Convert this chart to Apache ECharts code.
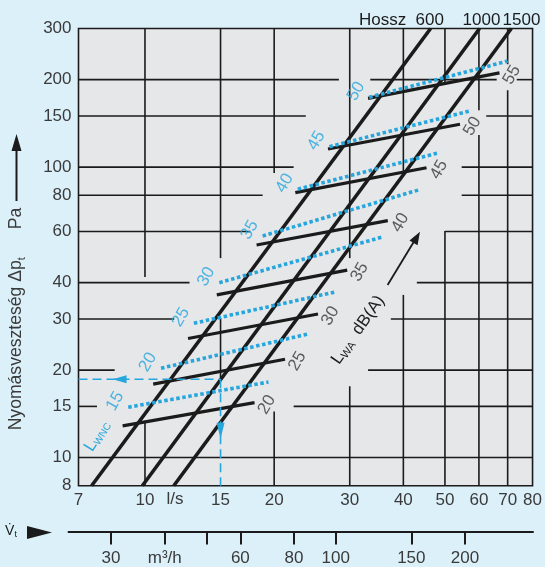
<!DOCTYPE html>
<html>
<head>
<meta charset="utf-8">
<script src="https://cdn.jsdelivr.net/npm/echarts@6/dist/echarts.min.js"></script>
<style>
  html, body { margin: 0; padding: 0; background: #dcf0fa; }
  #chart { width: 545px; height: 567px; }
</style>
</head>
<body>
<div id="chart"></div>
<script>
// Flow rate axis (l/s), pressure axis (Pa) and the secondary m³/h scale
const flowTicks = [7, 10, 15, 20, 30, 40, 50, 60, 70, 80];
const pressureTicks = [8, 10, 15, 20, 30, 40, 60, 80, 100, 150, 200, 300];
const m3hTicks = [30, 40, 50, 60, 80, 100, 150, 200];
const m3hLabels = [30, 40, 60, 80, 100, 150, 200];

// Duct lengths (mm): pressure loss lines as [l/s, Pa] end points
const lengthNames = ['600', '1000', '1500'];
const length600 = [[7.51, 8], [46.3, 300]];
const length1000 = [[9.86, 8], [60.2, 300]];
const length1500 = [[11.67, 8], [71.4, 300]];

// Sound power level L_WA dB(A)
const lwaLevels = [20, 25, 30, 35, 40, 45, 50, 55];
const lwaLines = [
  [[8.87, 12.85], [18.0, 15.45]],
  [[10.45, 17.9], [21.2, 21.8]],
  [[12.6, 25.7], [25.3, 31.2]],
  [[14.7, 36.3], [29.6, 44.2]],
  [[18.2, 53.9], [36.8, 65.4]],
  [[22.4, 81.7], [45.3, 99.5]],
  [[26.7, 115.4], [54.2, 140.4]],
  [[33.1, 172.5], [67.0, 211]]
];

// Noise criterion level L_WNC
const lwncLevels = [15, 20, 25, 30, 35, 40, 45, 50];
const lwncLines = [
  [[9.14, 14.9], [19.4, 18.2]],
  [[10.9, 20.3], [23.9, 26.6]],
  [[13.0, 29.0], [27.6, 37.1]],
  [[14.9, 40.0], [36.0, 57.6]],
  [[18.8, 57.9], [43.4, 83.4]],
  [[22.7, 83.9], [47.9, 111.6]],
  [[26.9, 117.6], [57.1, 156]],
  [[33.3, 173.9], [70.0, 231.8]]
];

// Worked example: 15 l/s through the 1000 mm duct
const exampleFlow = 15;
const examplePressure = 18.6;

// Grid line pieces, broken where captions and curves sit.
// Vertical: [l/s, Pa from, Pa to]; horizontal: [Pa, l/s from, l/s to]
const vGrid = [
  [10, 41.8, 300], [10, 8, 13.4],
  [15, 48.6, 300], [15, 18.6, 30.2],
  [20, 95.4, 300], [20, 8, 14.4],
  [30, 48.6, 300], [30, 8, 17.6],
  [40, 95.4, 300], [40, 8, 36.3],
  [50, 195, 300], [50, 8, 60.2],
  [60, 8, 129], [60, 157, 300],
  [70, 8, 184], [70, 226, 300]
];
const hGrid = [
  [10, 7, 80],
  [15, 7, 7.73], [15, 22.2, 80],
  [20, 7, 8.5], [20, 33.1, 80],
  [30, 7, 11.7], [30, 37.4, 80],
  [40, 7, 12.7], [40, 43, 80],
  [60, 7, 17.6], [60, 50, 80],
  [80, 7, 18.8], [80, 54.7, 80],
  [100, 7, 22.2], [100, 54.7, 80],
  [150, 7, 23.7], [150, 62.4, 80],
  [200, 7, 28.3], [200, 33.5, 66], [200, 73.5, 80]
];

const FONT = '"Liberation Sans", Arial, Helvetica, sans-serif';
const INK = '#1b1b1b';
const TEXT = '#3a3a3a';
const BLUE = '#27a6de';
const LABEL_ANGLE = 60;

const measure = document.createElement('canvas').getContext('2d');
function textWidth(t, size) {
  measure.font = size + 'px ' + FONT;
  return measure.measureText(t).width;
}
// A rotated run of text pieces: [text, size, baseline shift, gap before]
function textRun(parts, cx, cy, deg, color) {
  const widths = parts.map(p => textWidth(p[0], p[1]) + (p[3] || 0));
  const total = widths.reduce((a, b) => a + b, 0);
  let x = -total / 2;
  const children = parts.map((p, i) => {
    const el = {
      type: 'text', x: x + (p[3] || 0), y: p[2],
      style: { text: p[0], font: p[1] + 'px ' + FONT, fill: color, textAlign: 'left', textVerticalAlign: 'middle', align: 'left', verticalAlign: 'middle' }
    };
    x += widths[i];
    return el;
  });
  return { type: 'group', x: cx, y: cy, rotation: deg * Math.PI / 180, children: children, silent: true };
}
function plainText(t, cx, cy, size, color) {
  return { type: 'text', x: cx, y: cy, silent: true,
    style: { text: t, font: size + 'px ' + FONT, fill: color, textAlign: 'center', textVerticalAlign: 'middle', align: 'center', verticalAlign: 'middle' } };
}
// Label offsets are applied in the rotated label frame; convert a screen shift
function labelOffset(dx, dy, deg) {
  const r = deg * Math.PI / 180;
  return [dx * Math.cos(r) - dy * Math.sin(r), dx * Math.sin(r) + dy * Math.cos(r)];
}

const gridSegments = vGrid.map(g => [g[0], g[1], g[0], g[2]])
  .concat(hGrid.map(g => [g[1], g[0], g[2], g[0]]));

function lineSeries(points, color, width, dash, z) {
  return {
    type: 'line', xAxisIndex: 0, yAxisIndex: 0, data: points,
    showSymbol: false, symbol: 'none', silent: true, z: z,
    lineStyle: { color: color, width: width, type: dash || 'solid', cap: 'butt' },
    animation: false
  };
}

const series = [];
series.push({
  type: 'custom', xAxisIndex: 0, yAxisIndex: 0, z: 1, silent: true,
  data: gridSegments,
  encode: { x: [0, 2], y: [1, 3] },
  renderItem: function (params, api) {
    const a = api.coord([api.value(0), api.value(1)]);
    const b = api.coord([api.value(2), api.value(3)]);
    return { type: 'line', shape: { x1: a[0], y1: a[1], x2: b[0], y2: b[1] },
      style: { stroke: INK, lineWidth: 1.6 } };
  }
});
[length600, length1000, length1500].forEach(l => series.push(lineSeries(l, INK, 3.6, null, 3)));
lwaLines.forEach(l => series.push(lineSeries(l, INK, 3.2, null, 3)));
lwncLines.forEach(l => series.push(lineSeries(l, BLUE, 3.6, [3.5, 2.6], 4)));

// Level labels next to the line ends
series.push({
  type: 'scatter', xAxisIndex: 0, yAxisIndex: 0, z: 6, silent: true,
  symbol: 'circle', symbolSize: 1, itemStyle: { color: 'rgba(0,0,0,0)' },
  data: lwaLines.map((l, i) => [l[1][0], l[1][1], lwaLevels[i]]),
  label: { show: true, position: 'inside', rotate: LABEL_ANGLE, offset: labelOffset(12.5, 2, LABEL_ANGLE),
    formatter: p => String(p.value[2]), fontSize: 17, fontFamily: FONT, color: TEXT }
});
series.push({
  type: 'scatter', xAxisIndex: 0, yAxisIndex: 0, z: 6, silent: true,
  symbol: 'circle', symbolSize: 1, itemStyle: { color: 'rgba(0,0,0,0)' },
  data: lwncLines.map((l, i) => [l[0][0], l[0][1], lwncLevels[i]]),
  label: { show: true, position: 'inside', rotate: LABEL_ANGLE, offset: labelOffset(-13, -6, LABEL_ANGLE),
    formatter: p => String(p.value[2]), fontSize: 17, fontFamily: FONT, color: BLUE }
});

// Example reading path with arrow heads
series.push({
  type: 'custom', xAxisIndex: 0, yAxisIndex: 0, z: 5, silent: true,
  data: [[exampleFlow, examplePressure]],
  renderItem: function (params, api) {
    const p = api.coord([api.value(0), api.value(1)]);
    const left = params.coordSys.x;
    const bottom = params.coordSys.y + params.coordSys.height;
    const ax = left + (p[0] - left) * 0.24;
    const ay = p[1] + (bottom - p[1]) * 0.56;
    const st = { stroke: BLUE, lineWidth: 1.6, lineDash: [9, 5] };
    return { type: 'group', children: [
      { type: 'line', shape: { x1: left, y1: p[1], x2: p[0], y2: p[1] }, style: st },
      { type: 'line', shape: { x1: p[0], y1: p[1], x2: p[0], y2: bottom }, style: st },
      { type: 'polygon', shape: { points: [[ax, p[1]], [ax + 14, p[1] - 4], [ax + 14, p[1] + 4]] }, style: { fill: BLUE } },
      { type: 'polygon', shape: { points: [[p[0], ay], [p[0] - 4, ay - 16], [p[0] + 4, ay - 16]] }, style: { fill: BLUE } }
    ] };
  }
});

const graphics = [
  // Y axis title and arrow
  textRun([['Nyomásveszteség Δp', 17.6, 0], ['t', 11, 5], ['Pa', 17.6, 0, 28]], 16.5, 319, 90, TEXT),
  { type: 'line', silent: true, shape: { x1: 16.5, y1: 201, x2: 16.5, y2: 148 }, style: { stroke: INK, lineWidth: 2 } },
  { type: 'polygon', silent: true, shape: { points: [[16.5, 134], [11.5, 151], [21.5, 151]] }, style: { fill: INK } },
  // Duct length header
  plainText('Hossz', 382.6, 20.5, 17, INK),
  plainText(lengthNames[0], 429.7, 20.5, 17, INK),
  plainText(lengthNames[1], 481.5, 20.5, 17, INK),
  plainText(lengthNames[2], 521.5, 20.5, 17, INK),
  // Flow unit
  plainText('l/s', 175, 499, 17, TEXT),
  // L_WA dB(A) caption with arrow
  textRun([['L', 17, 0], ['WA', 11, 4], ['  dB(A)', 17, 0]], 358, 330, 55, INK),
  { type: 'line', silent: true, shape: { x1: 387.6, y1: 285, x2: 414, y2: 241.5 }, style: { stroke: INK, lineWidth: 1.8 } },
  { type: 'polygon', silent: true, shape: { points: [[420, 231.7], [409.5, 240.5], [417.5, 245.3]] }, style: { fill: INK } },
  // L_WNC caption
  textRun([['L', 17, 0], ['WNC', 10, 4]], 97, 436, 58, BLUE),
  // Flow symbol and pointer of the secondary scale
  textRun([['V\u0307', 14, 0], ['t', 9, 4]], 11, 531, 0, INK),
  { type: 'polygon', silent: true, shape: { points: [[27, 526], [52, 532.5], [27, 539]] }, style: { fill: INK } }
];

const axisText = { fontSize: 17, fontFamily: FONT, color: TEXT };
const option = {
  backgroundColor: '#dcf0fa',
  animation: false,
  grid: [
    { left: 78.5, right: 12, top: 28.5, bottom: 81.3, show: true, backgroundColor: '#e6e7e8', borderColor: INK, borderWidth: 1.6 },
    { left: 68.5, right: 12, top: 531.5, height: 0 }
  ],
  xAxis: [
    { gridIndex: 0, type: 'log', logBase: 10, min: 7, max: 80,
      axisLine: { show: false }, axisTick: { show: false }, splitLine: { show: false },
      axisLabel: Object.assign({ customValues: flowTicks, margin: 6, formatter: v => String(Math.round(v)) }, axisText) },
    { gridIndex: 1, type: 'log', logBase: 10, min: 23.88, max: 288,
      axisLine: { show: true, lineStyle: { color: INK, width: 2 } },
      axisTick: { show: true, length: 13, customValues: m3hTicks, lineStyle: { color: INK, width: 2 } },
      splitLine: { show: false },
      axisLabel: Object.assign({ customValues: m3hLabels, margin: 18,
        formatter: v => Math.round(v) === 40 ? 'm³/h' : String(Math.round(v)) }, axisText) }
  ],
  yAxis: [
    { gridIndex: 0, type: 'log', logBase: 10, min: 8, max: 300,
      axisLine: { show: false }, axisTick: { show: false }, splitLine: { show: false },
      axisLabel: Object.assign({ customValues: pressureTicks, margin: 7, formatter: v => String(Math.round(v)) }, axisText) },
    { gridIndex: 1, type: 'value', show: false }
  ],
  graphic: graphics,
  series: series
};

const chart = echarts.init(document.getElementById('chart'));
chart.setOption(option);
</script>
</body>
</html>
